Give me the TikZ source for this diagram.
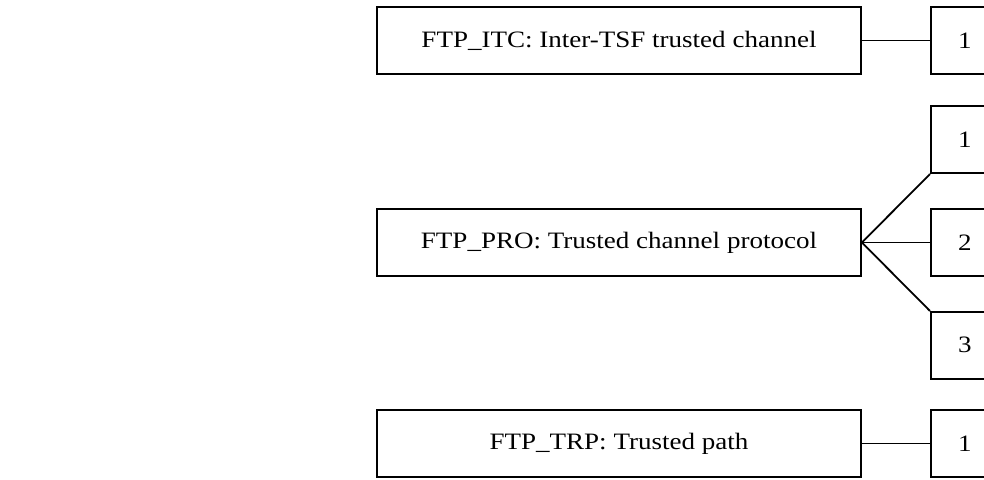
\documentclass[tikz,border=0pt]{standalone}
\usepackage{fontspec}
\setmainfont{Liberation Serif}[FakeStretch=1.15]
\usetikzlibrary{positioning}

\begin{document}
\begin{tikzpicture}[
  x=1pt, y=-1pt,
  font=\fontsize{23.5pt}{28pt}\selectfont,
  family/.style={draw, rectangle, line width=1.8pt, minimum width=484pt, minimum height=67pt, inner sep=0pt},
  comp/.style={draw, rectangle, line width=1.8pt, minimum width=68pt, minimum height=67pt, inner sep=0pt},
  link/.style={line width=1.8pt}
]
\useasboundingbox (0,0) rectangle (984,479);
\clip (0,0) rectangle (984,479);

\node[family] (itc) at (619,40.5) {FTP\_ITC: Inter-TSF trusted channel};
\node[comp, right=68pt of itc] (itc1) {1};

\node[family] (pro) at (619,242.5) {FTP\_PRO: Trusted channel protocol};
\node[comp, right=68pt of pro] (pro2) {2};
\node[comp, above=34pt of pro2] (pro1) {1};
\node[comp, below=34pt of pro2] (pro3) {3};

\node[family] (trp) at (619,443.5) {FTP\_TRP: Trusted path};
\node[comp, right=68pt of trp] (trp1) {1};

\draw[link] (itc) -- (itc1);
\draw[link] (pro.east) -- (pro1.south west);
\draw[link] (pro) -- (pro2);
\draw[link] (pro.east) -- (pro3.north west);
\draw[link] (trp) -- (trp1);
\end{tikzpicture}
\end{document}
